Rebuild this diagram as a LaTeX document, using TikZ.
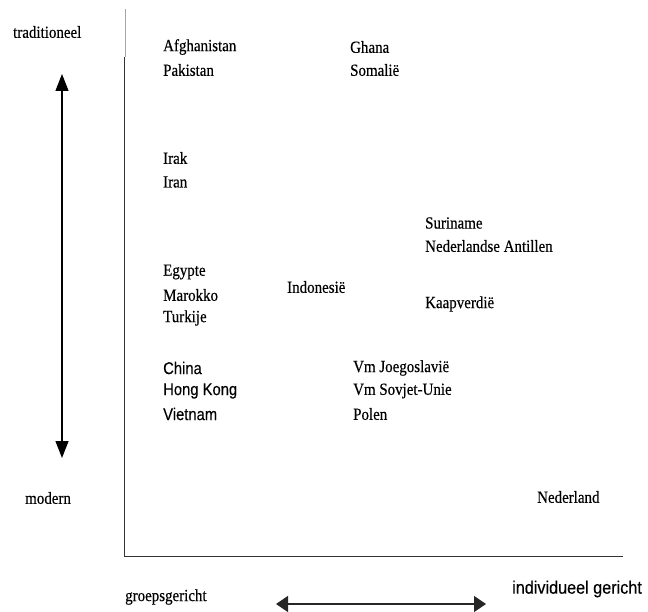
\documentclass[tikz,border=0pt]{standalone}
\usepackage{fontspec}
\setmainfont[FakeStretch=0.88,FakeBold=0.4]{Liberation Serif}
\newfontfamily\arialf[FakeStretch=0.87,FakeBold=0.3]{Liberation Sans}
\newfontfamily\arialg[FakeStretch=0.9,FakeBold=0.3]{Liberation Sans}
\usetikzlibrary{arrows.meta}
\begin{document}
\begin{tikzpicture}[x=1pt,y=-1pt,
  lbl/.style={anchor=west,inner sep=0pt,font=\fontsize{17}{17}\selectfont},
  slbl/.style={anchor=west,inner sep=0pt,font=\arialf\fontsize{17}{17}\selectfont},
  axis/.style={line width=1pt,draw=black!80},
  varrow/.style={line width=1.3pt,{Triangle[length=17pt,width=13pt]}-{Triangle[length=17pt,width=13pt]}},
  harrow/.style={line width=1.3pt,draw=black!85,{Triangle[length=12pt,width=16pt]}-{Triangle[length=12pt,width=16pt]}}]
\useasboundingbox (0,0) rectangle (648,612);
% axes
\coordinate (top) at (125,9);
\coordinate (topd) at (124,57);
\coordinate (origin) at (124,556);
\coordinate (xend) at (623,556);
\draw[line width=1pt,draw=black!35] (top) -- (125,57);
\draw[axis] (topd) -- (origin) -- (xend);
% direction arrows
\coordinate (vu) at (62,74);
\coordinate (vd) at (62,458);
\draw[varrow] (vu) -- (vd);
\coordinate (hl) at (276,604);
\coordinate (hr) at (486,604);
\draw[harrow] (hl) -- (hr);
% axis labels
\node[lbl] (trad) at (13,32) {traditioneel};
\node[lbl] (mod) at (25,498) {modern};
\node[lbl] (groep) at (125,597) {groepsgericht};
\node[anchor=west,inner sep=0pt,font=\arialg\fontsize{18}{18}\selectfont] (indiv) at (512,589) {individueel gericht};
% countries
\node[lbl] (afg) at (163,47) {Afghanistan};
\node[lbl] (pak) at (163,70) {Pakistan};
\node[lbl] (gha) at (350,47) {Ghana};
\node[lbl] (som) at (350,70) {Somalië};
\node[lbl] (irak) at (163,158) {Irak};
\node[lbl] (iran) at (163,182) {Iran};
\node[lbl] (sur) at (425,223) {Suriname};
\node[lbl] (ant) at (425,246) {Nederlandse Antillen};
\node[lbl] (egy) at (163,272) {Egypte};
\node[lbl] (mar) at (163,295) {Marokko};
\node[lbl] (tur) at (163,318) {Turkije};
\node[lbl] (ind) at (287,287) {Indonesië};
\node[lbl] (kaap) at (425,304) {Kaapverdië};
\node[slbl] (chi) at (163,368) {China};
\node[slbl] (hk) at (163,391) {Hong Kong};
\node[slbl] (vie) at (163,414) {Vietnam};
\node[lbl] (joe) at (353,368) {Vm Joegoslavië};
\node[lbl] (sov) at (353,391) {Vm Sovjet-Unie};
\node[lbl] (pol) at (353,414) {Polen};
\node[lbl] (ned) at (537,497) {Nederland};
\end{tikzpicture}
\end{document}
